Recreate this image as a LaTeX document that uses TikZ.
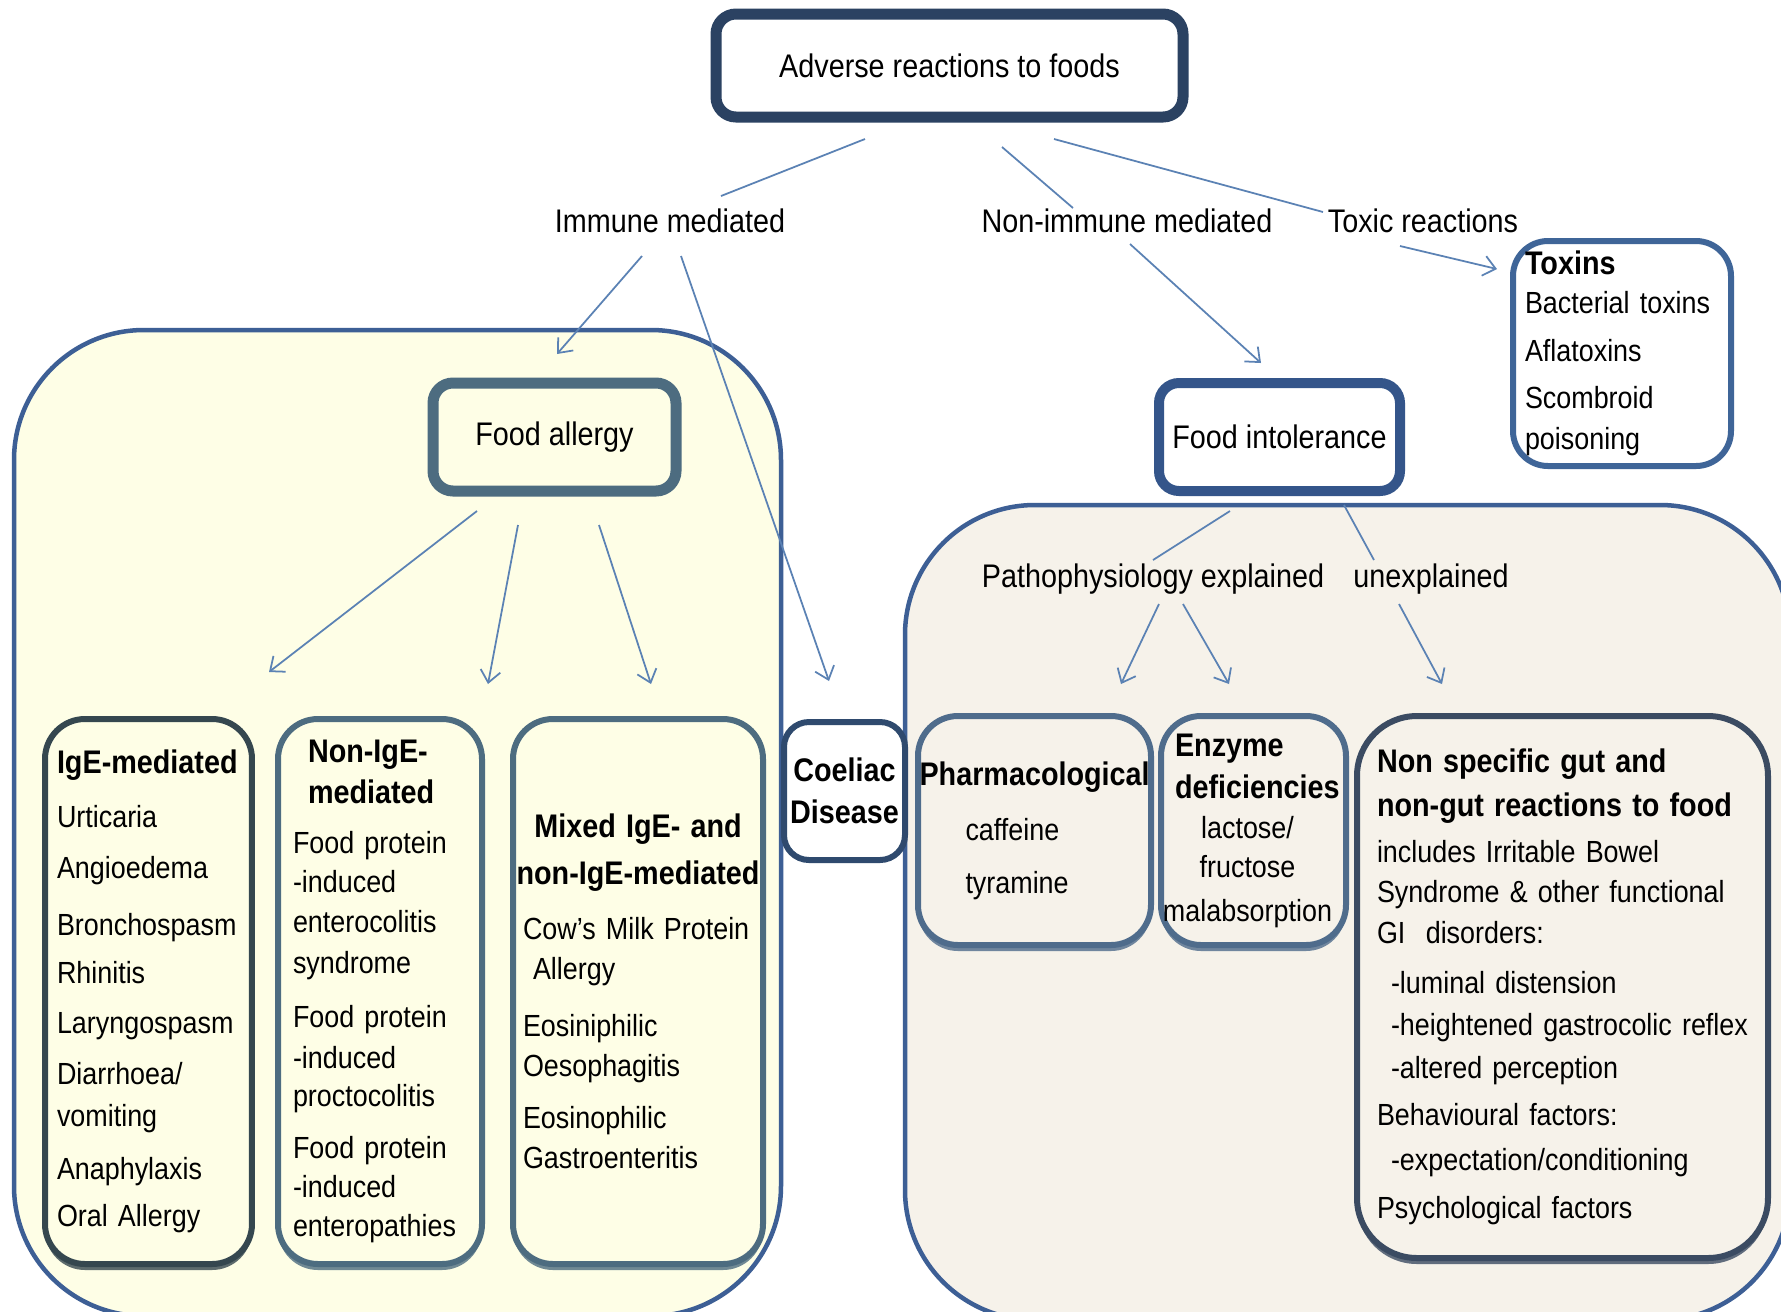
\documentclass[tikz,border=0pt]{standalone}
\usepackage{fontspec}
\setmainfont[FakeStretch=0.88]{Liberation Sans}
\usetikzlibrary{arrows.meta,calc,shadows}
\definecolor{regblue}{HTML}{3D5F95}
\definecolor{allergyfill}{HTML}{FEFEE6}
\definecolor{intolfill}{HTML}{F6F2EA}
\definecolor{navy}{HTML}{2B4262}
\definecolor{slate}{HTML}{4D6C80}
\definecolor{darkslate}{HTML}{35474F}
\definecolor{intolblue}{HTML}{34558A}
\definecolor{toxblue}{HTML}{3F6598}
\definecolor{coelblue}{HTML}{2F4A6E}
\definecolor{pharmblue}{HTML}{4F6C8C}
\definecolor{nsdark}{HTML}{3B4B62}
\definecolor{linkblue}{HTML}{5B82B4}
\newcommand\labfont{\fontsize{9.3}{12}\selectfont}
\newcommand\txtfont{\fontsize{8.7}{12}\selectfont}
\newcommand\boxhead{\labfont\bfseries}

\begin{document}
\begin{tikzpicture}[x=0.1mm,y=-0.1mm,
    region/.style={draw=regblue,line width=0.45mm,rounded corners=13mm},
    head/.style={draw,rounded corners=2mm,line width=1.1mm,outer sep=0pt,font=\labfont,fill=white},
    box/.style={draw,rounded corners=4mm,line width=0.6mm,outer sep=0pt,inner sep=0pt,align=left,font=\txtfont},
    shade/.style={drop shadow={shadow xshift=0mm,shadow yshift=-0.6mm,fill=#1,opacity=0.8}},
    lab/.style={font=\labfont,inner sep=0pt},
    link/.style={draw=linkblue,line width=0.5pt},
    conn/.style={link,-{Straight Barb[length=1.2mm,width=2mm]}}]
\clip (0,0) rectangle (1781,1311);
\fill[white] (0,0) rectangle (1781,1311);
\draw[region,fill=allergyfill] (14,330) rectangle (781,1316);
\draw[region,fill=intolfill] (905,505) rectangle (1790,1320);

\node[head,draw=navy,minimum width=46.7mm,minimum height=10.3mm] at (949.5,65.5) (adverse) {Adverse reactions to foods};
\node[lab] at (670,221) (immune) {Immune mediated};
\node[lab] at (1127,221) (nonimm) {Non-immune mediated};
\node[lab] at (1423,221) (toxic) {Toxic reactions};

\node[head,draw=slate,fill=allergyfill,minimum width=24.3mm,minimum height=10.8mm] at (554.5,437) (falg) {Food allergy};
\node[head,draw=intolblue,line width=1mm,minimum width=24.1mm,minimum height=10.8mm] at (1279.5,437) (fint) {Food intolerance};
\node[box,draw=toxblue,fill=white,rounded corners=3.5mm,minimum width=21.8mm,minimum height=22.5mm,text width=19.4mm] at (1622,353.5) (toxins) {{\boxhead Toxins}\\[-1pt] Bacterial toxins\\[1.6pt] Aflatoxins\\[1.6pt] Scombroid\\[-0.4pt] poisoning};

\node[box,shade=darkslate,draw=darkslate,fill=allergyfill,minimum width=20.7mm,minimum height=54.5mm,text width=18.3mm] at (148.5,991.5) (ige) {{\boxhead IgE-mediated}\\[3.5pt] Urticaria\\[2.5pt] Angioedema\\[4.2pt] Bronchospasm\\[1.6pt] Rhinitis\\[2.2pt] Laryngospasm\\[2.5pt] Diarrhoea/\\ vomiting\\[2.9pt] Anaphylaxis\\[1.6pt] Oral Allergy};
\node[box,shade=slate,draw=slate,fill=allergyfill,minimum width=20.4mm,minimum height=54.5mm,text width=17.4mm] at (380,991.5) (nonige) {\hspace*{1.5mm}{\boxhead Non-IgE-}\\[-0.4pt] \hspace*{1.5mm}{\boxhead mediated}\\[2.2pt] Food protein\\[-0.7pt] -induced\\[-0.7pt] enterocolitis\\[-0.4pt] syndrome\\[3.5pt] Food protein\\[-0.4pt] -induced\\[-1.3pt] proctocolitis\\[2.9pt] Food protein\\[-1pt] -induced\\[-0.7pt] enteropathies};
\node[box,shade=slate,draw=slate,fill=allergyfill,minimum width=25mm,minimum height=54.5mm,text width=23mm] at (638,991.5) (mixed) {\makebox[23mm]{\boxhead Mixed IgE- and}\\[1.3pt] \makebox[23mm]{\boxhead non-IgE-mediated}\\[3.5pt] Cow’s Milk Protein\\[-0.4pt] \hspace*{1mm}Allergy\\[4.2pt] Eosiniphilic\\[-0.7pt] Oesophagitis\\[2.9pt] Eosinophilic\\[-0.7pt] Gastroenteritis};
\node[box,align=center,draw=coelblue,fill=white,rounded corners=2.5mm,minimum width=12.1mm,minimum height=13.8mm,font=\boxhead] at (844.5,791) (coeliac) {Coeliac\\Disease};

\node[lab] at (1153,579) (patho) {Pathophysiology explained};
\node[lab] at (1431,579) (unexpl) {unexplained};
\node[box,shade=pharmblue,draw=pharmblue,fill=intolfill,minimum width=23.3mm,minimum height=22.9mm,text width=23mm] at (1034.5,830.5) (pharm) {{\boxhead Pharmacological}\\[3.8pt] \hspace*{4.6mm}caffeine\\[2.9pt] \hspace*{4.6mm}tyramine};
\node[box,shade=pharmblue,draw=pharmblue,fill=intolfill,minimum width=18.5mm,minimum height=22.9mm,text width=15.7mm] at (1253.5,830.5) (enzyme) {{\boxhead Enzyme}\\ {\boxhead deficiencies}\\[-0.7pt] \makebox[14.5mm]{lactose/}\\[-0.7pt] \makebox[14.5mm]{fructose}\\[0.3pt] \makebox[14.5mm]{malabsorption}};
\node[box,shade=nsdark,draw=nsdark,fill=intolfill,rounded corners=6mm,minimum width=41.1mm,minimum height=54.2mm,text width=37.1mm] at (1562.5,987) (nonspec) {{\boxhead Non specific gut and}\\[0.3pt] {\boxhead non-gut reactions to food}\\[1.3pt] includes Irritable Bowel\\[-0.7pt] Syndrome \& other functional\\[-0.4pt] GI\ \ disorders:\\[2.2pt] \hspace*{1.4mm}-luminal distension\\ \hspace*{1.4mm}-heightened gastrocolic reflex\\[0.3pt] \hspace*{1.4mm}-altered perception\\[1.3pt] Behavioural factors:\\[0.9pt] \hspace*{1.4mm}-expectation/conditioning\\[1.6pt] Psychological factors};

\draw[link] ($(adverse.south)+(-84.5,22)$) -- ($(immune)+(51,-25)$);
\draw[link] ($(adverse.south)+(52.5,30)$) -- ($(nonimm)+(-54,-13)$);
\draw[link] ($(adverse.south)+(104.5,22)$) -- ($(toxic)+(-100,-9)$);
\draw[conn] ($(immune)+(-28,35)$) -- ($(falg.north)+(2.5,-29)$);
\draw[conn] ($(immune)+(11,35)$) -- ($(coeliac.north)+(-15.5,-41)$);
\draw[conn] ($(nonimm)+(3,23)$) -- ($(fint.north)+(-18.5,-20)$);
\draw[conn] ($(toxic)+(-23,25)$) -- ($(toxins.north west)+(-16,28)$);
\draw[conn] ($(falg.south)+(-77.5,20)$) -- ($(ige.north)+(120.5,-47)$);
\draw[conn] ($(falg.south)+(-36.5,34)$) -- ($(nonige.north)+(108,-35)$);
\draw[conn] ($(falg.south)+(44.5,34)$) -- ($(mixed.north)+(13,-35)$);
\draw[link] ($(fint.south)+(-49.5,20)$) -- ($(patho)+(0,-19)$);
\draw[link] ($(fint.south)+(64.5,14)$) -- ($(unexpl)+(-57,-19)$);
\draw[conn] ($(patho)+(6,25)$) -- ($(pharm.north)+(86.5,-32)$);
\draw[conn] ($(patho)+(30,25)$) -- ($(enzyme.north)+(-24.5,-32)$);
\draw[conn] ($(unexpl)+(-32,25)$) -- ($(nonspec.north)+(-120.5,-32)$);
\end{tikzpicture}
\end{document}
